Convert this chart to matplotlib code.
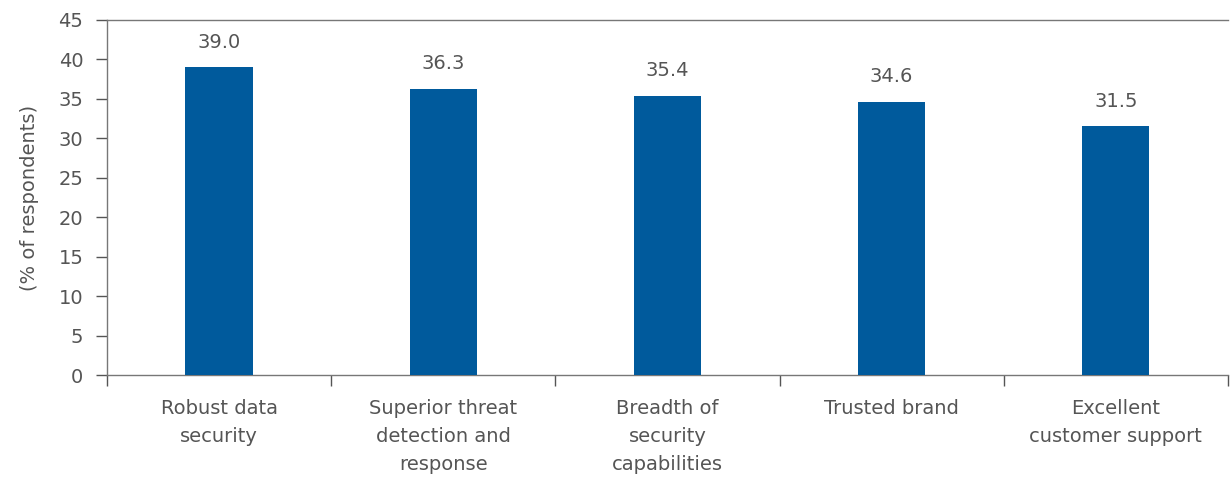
import matplotlib.pyplot as plt

# data
categories = ['Robust data\nsecurity',
              'Superior threat\ndetection and\nresponse',
              'Breadth of\nsecurity\ncapabilities',
              'Trusted brand',
              'Excellent\ncustomer support']
values = [39.0, 36.3, 35.4, 34.6, 31.5]
yticks = [0, 5, 10, 15, 20, 25, 30, 35, 40, 45]

grey = '#555555'
blue = '#005A9C'

plt.rcParams['font.family'] = 'DejaVu Sans'

fig = plt.figure(figsize=(12.31, 4.83), dpi=100)
ax = fig.add_axes([0.0869, 0.2236, 0.9106, 0.735])

x = list(range(len(values)))
bars = ax.bar(x, values, width=0.3, color=blue, zorder=3)

for xi, v in zip(x, values):
    ax.text(xi, v + 2.0, f'{v:.1f}', ha='center', va='bottom',
            fontsize=14, color=grey)

ax.set_xlim(-0.5, len(values) - 0.5)
ax.set_ylim(0, 45)
ax.set_yticks(yticks)
ax.tick_params(axis='y', labelsize=14, colors=grey, length=8, width=1, pad=9)

# category labels between boundary ticks
ax.set_xticks([i - 0.5 for i in range(len(values) + 1)])
ax.set_xticklabels([])
ax.set_xticks(x, minor=True)
ax.set_xticklabels(categories, minor=True, fontsize=14, color=grey,
                   linespacing=1.6)
ax.tick_params(axis='x', which='major', length=8, width=1, color=grey)
ax.tick_params(axis='x', which='minor', length=0, pad=17)

for s in ['left', 'bottom', 'top']:
    ax.spines[s].set_color('#777777')
    ax.spines[s].set_linewidth(1)
ax.spines['right'].set_visible(False)

ax.set_ylabel('(% of respondents)', fontsize=14, color=grey, labelpad=14)

fig.savefig('out.png', dpi=100)
